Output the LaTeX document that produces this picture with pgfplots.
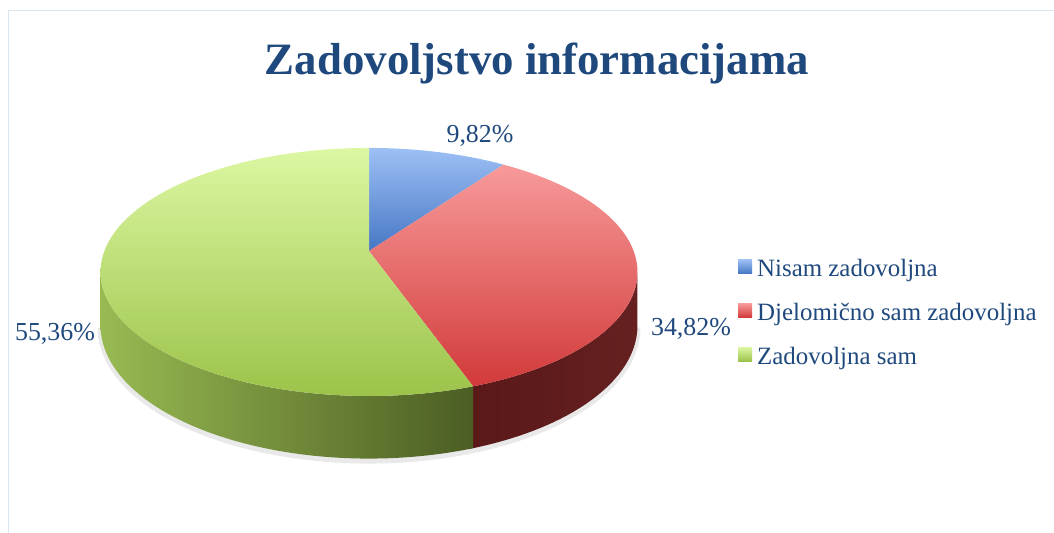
\documentclass[border=0pt]{standalone}
\usepackage{pgfplots}
\pgfplotsset{compat=1.18}
\usepackage{pgfplotstable}
\usepackage{fontspec}
\setmainfont{Liberation Serif}
\definecolor{txt}{HTML}{1F497D}
\definecolor{frame}{HTML}{D9E5F3}
\definecolor{rsL}{HTML}{5A1818}
\definecolor{rsR}{HTML}{652020}
\definecolor{gsL}{HTML}{98BA52}
\definecolor{gsM}{HTML}{6F8E37}
\definecolor{gsR}{HTML}{4B5D23}
\definecolor{bT}{HTML}{9DC0F5}
\definecolor{bB}{HTML}{4677C4}
\definecolor{rT}{HTML}{F89A9A}
\definecolor{rB}{HTML}{D23A3A}
\definecolor{gT}{HTML}{DCF7A2}
\definecolor{gB}{HTML}{9CC34A}
\pgfplotstableread[col sep=comma]{
label,value
Nisam zadovoljna,9.82
Djelomično sam zadovoljna,34.82
Zadovoljna sam,55.36
}\pietable
\begin{document}
\begin{tikzpicture}
\pgfplotstablegetelem{0}{value}\of\pietable \let\vA\pgfplotsretval
\pgfplotstablegetelem{1}{value}\of\pietable \let\vB\pgfplotsretval
\pgfplotstablegetelem{2}{value}\of\pietable \let\vC\pgfplotsretval
\pgfmathsetmacro\aA{90}
\pgfmathsetmacro\aB{90-3.6*\vA}
\pgfmathsetmacro\aC{\aB-3.6*\vB}
\pgfmathsetmacro\aD{\aC-3.6*\vC}
\pgfmathsetmacro\aCx{\aC-1}
\pgfmathsetmacro\sil{asin(0.169)}
\pgfmathsetmacro\silR{-\sil}
\pgfmathsetmacro\silL{-180+\sil}
\begin{axis}[name=ax,
  width=1054bp, height=533bp, scale only axis,
  xmin=0, xmax=1054, ymin=0, ymax=533, y dir=reverse,
  axis lines=none, clip=false, no markers,
  /pgf/number format/assume math mode=true,
  declare function={
    px(\a)=369+264.6*cos(\a)/(1+0.169*sin(\a));
    py(\a)=251-120.5*sin(\a)/(1+0.169*sin(\a));
    dd(\a)=52/(1+0.169*sin(\a));
    ang(\s,\a,\b)=(\s<1) ? (\a+(\b-\a)*\s) : (\b+(\a-\b)*(\s-1));
  },
  legend style={at={(axis cs:738,257)}, anchor=north west, draw=none, fill=none,
    font=\fontsize{25}{30}\selectfont, text=txt, row sep=21bp, inner sep=0pt,
    /tikz/every odd column/.append style={column sep=3bp}},
  legend cell align=left,
  legend image code/.code={\fill[#1] (0bp,-5bp) rectangle (14bp,9bp);},
]
% frame
\draw[color=frame, line width=1.5bp] (axis cs:8.5,533) -- (axis cs:8.5,10.5) -- (axis cs:1054,10.5);
% soft shadow
\addplot[forget plot, draw=black!25, opacity=0.35, line width=6bp, domain=\silL:\silR, samples=100, variable=\t]
  ({px(\t)}, {py(\t)+dd(\t)+2});
% sides
\addplot[forget plot, draw=none, left color=rsL, right color=rsR, domain=0:2, samples=161, variable=\t]
  ({px(ang(\t,\silR,\aCx))}, {py(ang(\t,\silR,\aCx))+(\t>=1)*dd(ang(\t,\silR,\aCx))}) -- cycle;
\addplot[forget plot, draw=none, left color=gsL, middle color=gsM, right color=gsR, domain=0:2, samples=201, variable=\t]
  ({px(ang(\t,\aC,\silL))}, {py(ang(\t,\aC,\silL))+(\t>=1)*dd(ang(\t,\aC,\silL))}) -- cycle;
% top faces
\addplot[draw=none, top color=bT, bottom color=bB, domain=\aB:\aA, samples=40, variable=\t]
  ({px(\t)}, {py(\t)}) -- (axis cs:369,251) -- cycle;
\addlegendentry{Nisam zadovoljna}
\addplot[draw=none, top color=rT, bottom color=rB, domain=\aC:\aB, samples=100, variable=\t]
  ({px(\t)}, {py(\t)}) -- (axis cs:369,251) -- cycle;
\addlegendentry{Djelomično sam zadovoljna}
\addplot[draw=none, top color=gT, bottom color=gB, domain=\aD:\aC, samples=160, variable=\t]
  ({px(\t)}, {py(\t)}) -- (axis cs:369,251) -- cycle;
\addlegendentry{Zadovoljna sam}
% title
\node[anchor=base, text=txt, font=\fontsize{45}{50}\selectfont\bfseries] at (axis cs:537,75) {Zadovoljstvo informacijama};
% labels
\node[anchor=base, text=txt, font=\fontsize{26}{30}\selectfont] at (axis cs:480,142) {\pgfmathprintnumber[fixed,fixed zerofill,precision=2,use comma]{\vA}\%};
\node[anchor=base, text=txt, font=\fontsize{26}{30}\selectfont] at (axis cs:691,335) {\pgfmathprintnumber[fixed,fixed zerofill,precision=2,use comma]{\vB}\%};
\node[anchor=base, text=txt, font=\fontsize{26}{30}\selectfont] at (axis cs:55,340) {\pgfmathprintnumber[fixed,fixed zerofill,precision=2,use comma]{\vC}\%};
\end{axis}
\pgfresetboundingbox
\path[use as bounding box] (ax.south west) rectangle (ax.north east);
\end{tikzpicture}
\end{document}
